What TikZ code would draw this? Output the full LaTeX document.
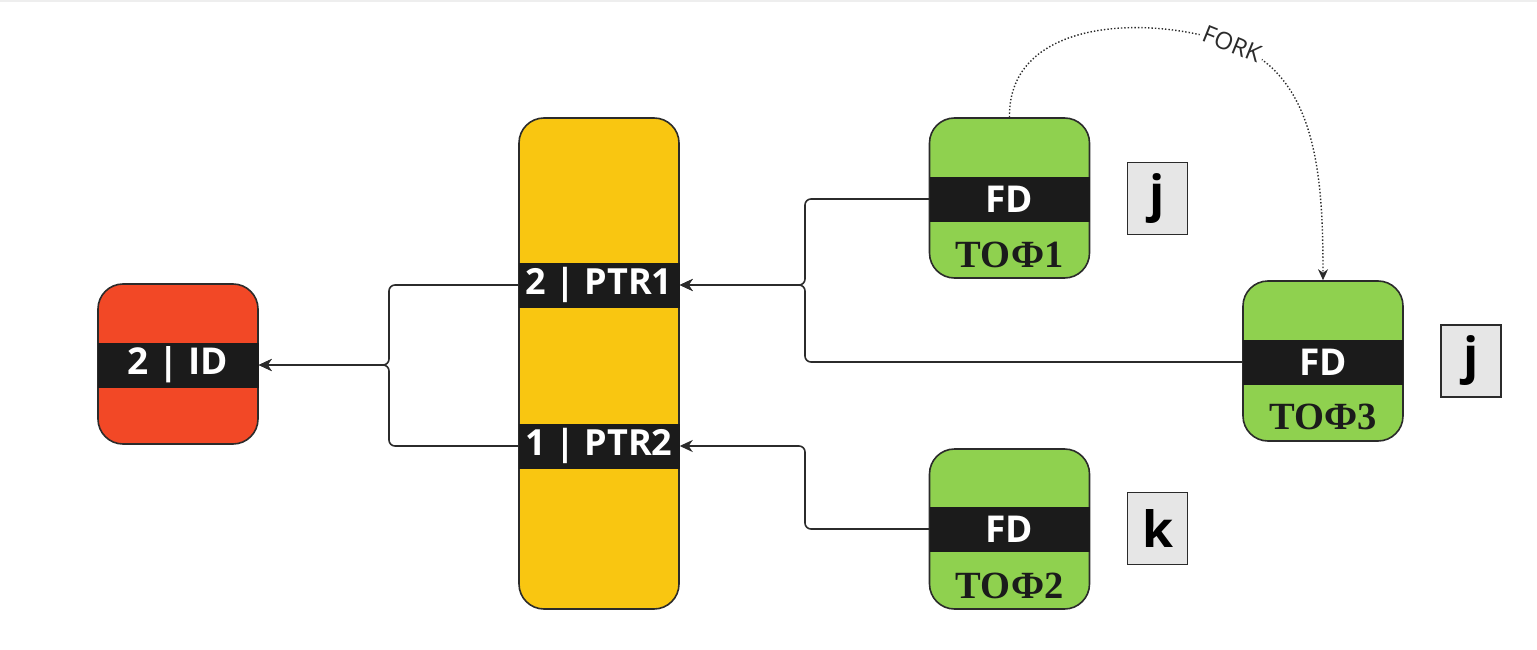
\documentclass[tikz,border=0pt]{standalone}
\usepackage{fontspec}
\setmainfont{Open Sans}
\newfontfamily\tofserif{Liberation Serif}
\usetikzlibrary{arrows.meta}
\definecolor{linec}{HTML}{2B2B2B}
\definecolor{bandc}{HTML}{1B1B1B}
\definecolor{redc}{HTML}{F24826}
\definecolor{yellowc}{HTML}{F9C611}
\definecolor{greenc}{HTML}{8FD14F}
\definecolor{grayc}{HTML}{E6E6E6}
\definecolor{topc}{HTML}{EEEEEE}
\begin{document}
\begin{tikzpicture}[x=1pt,y=-1pt,
  box/.style={draw=linec, line width=1.6pt, rounded corners=25pt, minimum width=160pt, minimum height=160pt, inner sep=0pt},
  band/.style={fill=bandc, minimum width=161pt, minimum height=45pt, inner sep=0pt, text=white, font=\bfseries\fontsize{36}{36}\selectfont},
  toflabel/.style={text=bandc, inner sep=0pt, font=\tofserif\bfseries\fontsize{38.5}{38.5}\selectfont},
  letterbox/.style={draw=linec, fill=grayc, line width=1.6pt, minimum width=60pt, minimum height=72pt, inner sep=0pt, font=\bfseries\fontsize{50}{50}\selectfont},
  conn/.style={draw=linec, line width=1.6pt, rounded corners=6pt, -{Stealth[length=13pt,width=12pt,inset=4pt]}},
  forkline/.style={draw=linec, line width=1.4pt, dotted, -{Stealth[length=11pt,width=10pt]}}
]
\useasboundingbox (0,0) rectangle (1537,650);
\fill[topc] (0,0) rectangle (1537,2);

% red ID box
\node[box, fill=redc] (id) at (178,364) {};
\node[band, font=\bfseries\fontsize{37}{37}\selectfont] (idband) at (178,365) {2 | ID};

% yellow column
\node[box, fill=yellowc, minimum height=491pt] (col) at (599,363.5) {};
\node[band] (ptr1) at (599,285) {2 | PTR1};
\node[band] (ptr2) at (599,446) {1 | PTR2};

% green boxes
\node[box, fill=greenc] (tof1) at (1009.5,198) {};
\node[band, minimum width=160pt, font=\bfseries\fontsize{37}{37}\selectfont] (fd1) at (1009.5,199) {FD};
\node[toflabel] (t1) at (1009.5,255) {ТОФ1};
\node[letterbox] (j1) at (1157.5,198.5) {j};

\node[box, fill=greenc] (tof3) at (1323,361) {};
\node[band, minimum width=160pt, font=\bfseries\fontsize{37}{37}\selectfont] (fd3) at (1323,362) {FD};
\node[toflabel] (t3) at (1323,417) {ТОФ3};
\node[letterbox] (j2) at (1471,361) {j};

\node[box, fill=greenc] (tof2) at (1009.5,529) {};
\node[band, minimum width=160pt, font=\bfseries\fontsize{37}{37}\selectfont] (fd2) at (1009.5,529) {FD};
\node[toflabel] (t2) at (1009.5,586) {ТОФ2};
\node[letterbox] (k1) at (1157.5,528.5) {k};

% junctions
\coordinate (jr1) at (805,285);
\coordinate (jr2) at (805,446);
\coordinate (jl) at (389,365);

\draw[conn] (fd1.west) -| (jr1) -- (ptr1.east);
\draw[conn] (fd3.west) -| (jr1) -- (ptr1.east);
\draw[conn] (fd2.west) -| (jr2) -- (ptr2.east);
\draw[conn] (ptr1.west) -| (jl) -- (idband.east);
\draw[conn] (ptr2.west) -| (jl) -- (idband.east);

% fork
\coordinate (fk) at (1232,44);
\draw[forkline] (tof1.north) .. controls (1008,18) and (1150,14) .. (fk) .. controls (1318,74) and (1323,180) .. (tof3.north);
\node[fill=white, inner sep=3pt, rotate=-22, text=linec, font=\fontsize{24}{24}\selectfont] (forklabel) at (fk) {FORK};
\end{tikzpicture}
\end{document}
